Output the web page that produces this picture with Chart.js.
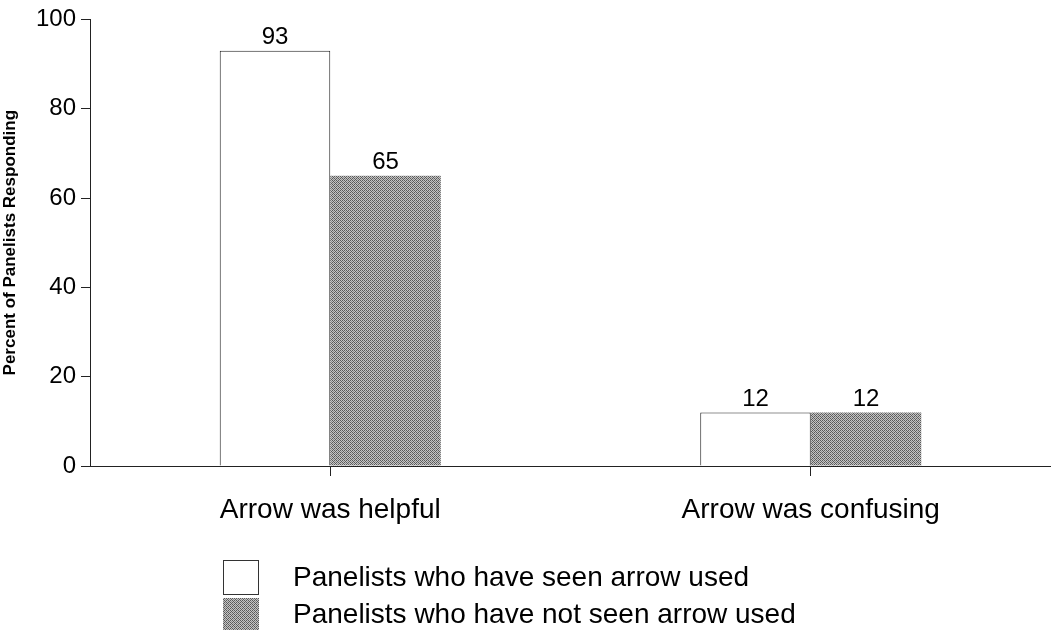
<!DOCTYPE html>
<html>
<head>
<meta charset="utf-8">
<script src="https://cdn.jsdelivr.net/npm/chart.js@4/dist/chart.umd.min.js"></script>
<style>
    html, body { margin: 0; padding: 0; background: #fff; }
    #wrap { width: 1051px; height: 637px; }
</style>
</head>
<body>
<div id="wrap"><canvas id="chart" width="1051" height="637"></canvas></div>
<script>
// chart data
const categories = ['Arrow was helpful', 'Arrow was confusing'];
const seriesNames = ['Panelists who have seen arrow used', 'Panelists who have not seen arrow used'];
const seenValues = [93, 12];
const notSeenValues = [65, 12];
const yTicks = [0, 20, 40, 60, 80, 100];

const FONT = '"Liberation Sans", Arial, Helvetica, sans-serif';

// grey dotted texture for the second series
function makePattern() {
    const c = document.createElement('canvas');
    c.width = 4;
    c.height = 4;
    const g = c.getContext('2d');
    g.fillStyle = '#c4c4c4';
    g.fillRect(0, 0, 4, 4);
    g.fillStyle = '#5a5a5a';
    g.fillRect(0, 0, 1, 1);
    g.fillRect(2, 0, 1, 1);
    g.fillRect(1, 1, 1, 1);
    g.fillRect(0, 2, 1, 1);
    g.fillRect(3, 3, 1, 1);
    g.fillRect(2, 2, 1, 1);
    g.fillStyle = '#8a8a8a';
    g.fillRect(3, 1, 1, 1);
    g.fillRect(1, 3, 1, 1);
    return document.getElementById('chart').getContext('2d').createPattern(c, 'repeat');
}
const hatch = makePattern();

// numbers above the bars
const valueLabels = {
    id: 'valueLabels',
    afterDatasetsDraw(chart) {
        const ctx = chart.ctx;
        ctx.save();
        ctx.font = '24px ' + FONT;
        ctx.fillStyle = '#000';
        ctx.textAlign = 'center';
        ctx.textBaseline = 'bottom';
        chart.data.datasets.forEach((ds, i) => {
            chart.getDatasetMeta(i).data.forEach((bar, j) => {
                ctx.fillText(String(ds.data[j]), bar.x, bar.y - 1);
            });
        });
        ctx.restore();
    }
};

// stacked legend under the category labels
const boxLegend = {
    id: 'boxLegend',
    afterDraw(chart) {
        const ctx = chart.ctx;
        ctx.save();
        ctx.font = '28px ' + FONT;
        ctx.textBaseline = 'middle';
        ctx.textAlign = 'left';
        const rows = [
            { y: 560, h: 35, fill: '#fff' },
            { y: 598, h: 32, fill: hatch }
        ];
        rows.forEach((r, i) => {
            ctx.fillStyle = r.fill;
            ctx.fillRect(223, r.y, 36, r.h);
            if (i === 0) {
                ctx.strokeStyle = '#333';
                ctx.lineWidth = 1;
                ctx.strokeRect(223.5, r.y + 0.5, 35, r.h - 1);
            }
            ctx.fillStyle = '#000';
            ctx.fillText(seriesNames[i], 293, r.y + r.h / 2 + 1);
        });
        ctx.restore();
    }
};

new Chart(document.getElementById('chart'), {
    type: 'bar',
    data: {
        labels: categories,
        datasets: [
            {
                label: seriesNames[0],
                data: seenValues,
                backgroundColor: '#fff',
                borderColor: '#222',
                borderWidth: 1
            },
            {
                label: seriesNames[1],
                data: notSeenValues,
                backgroundColor: hatch,
                borderColor: '#666',
                borderWidth: 0
            }
        ]
    },
    options: {
        responsive: false,
        animation: false,
        events: [],
        layout: { padding: { left: 0, right: 0, top: 15, bottom: 0 } },
        datasets: { bar: { categoryPercentage: 0.46, barPercentage: 1 } },
        plugins: {
            legend: { display: false },
            tooltip: { enabled: false }
        },
        scales: {
            x: {
                grid: {
                    offset: false,
                    drawOnChartArea: false,
                    drawTicks: true,
                    tickLength: 10,
                    color: '#222'
                },
                border: { display: true, color: '#222', width: 1 },
                ticks: {
                    color: '#000',
                    font: { family: FONT, size: 28 },
                    padding: 17
                },
                afterFit: scale => { scale.height = 171; }
            },
            y: {
                min: 0,
                max: 100,
                afterBuildTicks: scale => { scale.ticks = yTicks.map(v => ({ value: v })); },
                grid: {
                    drawOnChartArea: false,
                    drawTicks: true,
                    tickLength: 9,
                    color: '#222'
                },
                border: { display: true, color: '#222', width: 1 },
                ticks: {
                    color: '#000',
                    font: { family: FONT, size: 24 },
                    padding: 5
                },
                title: {
                    display: true,
                    text: 'Percent of Panelists Responding',
                    color: '#000',
                    font: { family: FONT, size: 17, weight: 'bold' },
                    padding: { top: 0, bottom: 2 }
                },
                afterFit: scale => { scale.width = 90; }
            }
        }
    },
    plugins: [valueLabels, boxLegend]
});
</script>
</body>
</html>
